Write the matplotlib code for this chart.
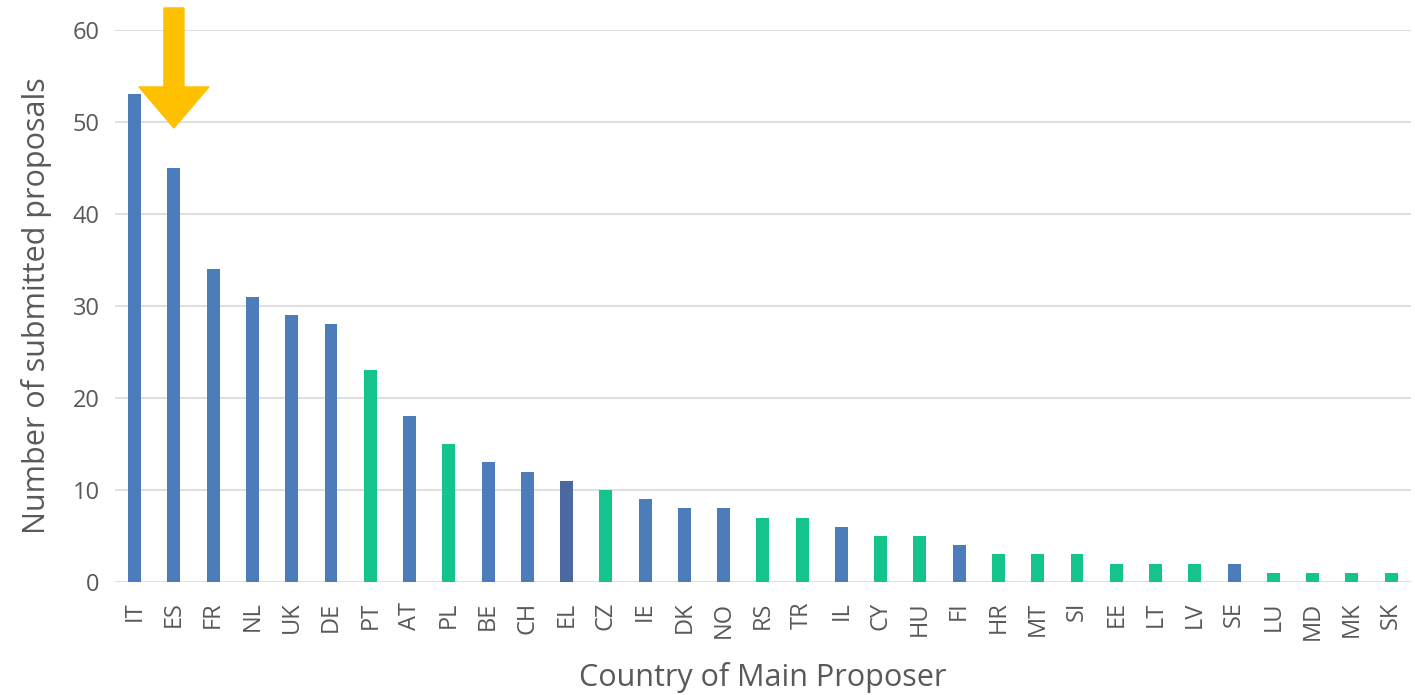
import matplotlib
matplotlib.use("Agg")
import matplotlib.pyplot as plt
from matplotlib.patches import FancyArrow

countries = ["IT", "ES", "FR", "NL", "UK", "DE", "PT", "AT", "PL", "BE", "CH", "EL", "CZ",
             "IE", "DK", "NO", "RS", "TR", "IL", "CY", "HU", "FI", "HR", "MT", "SI", "EE",
             "LT", "LV", "SE", "LU", "MD", "MK", "SK"]
proposals = [53, 45, 34, 31, 29, 28, 23, 18, 15, 13, 12, 11, 10,
             9, 8, 8, 7, 7, 6, 5, 5, 4, 3, 3, 3, 2,
             2, 2, 2, 1, 1, 1, 1]
groups = ["b", "b", "b", "b", "b", "b", "g", "b", "g", "b", "b", "d", "g",
          "b", "b", "b", "g", "g", "b", "g", "g", "b", "g", "g", "g", "g",
          "g", "g", "b", "g", "g", "g", "g"]
yticks = [0, 10, 20, 30, 40, 50, 60]

palette = {"b": "#4A7DBA", "g": "#14C48C", "d": "#4C68A2"}

plt.rcParams['font.family'] = ['Open Sans', 'DejaVu Sans']

fig = plt.figure(figsize=(14.15, 6.95), dpi=100)
ax = fig.add_axes([0.0813, 0.1626, 0.9157, 0.7942])

x = list(range(len(countries)))
ax.bar(x, proposals, width=0.33, color=[palette[g] for g in groups], zorder=3)

ax.set_xlim(-0.5, len(countries) - 0.5)
ax.set_ylim(0, 60)
ax.set_yticks(yticks)
ax.set_yticklabels([str(v) for v in yticks])
ax.set_xticks(x)
ax.set_xticklabels(countries, rotation=90)
ax.tick_params(axis='y', length=0, pad=11, labelsize=17, labelcolor="#595959")
ax.tick_params(axis='x', length=0, pad=14, labelsize=17, labelcolor="#595959")
ax.grid(axis='y', color="#D9D9D9", linewidth=1.2, zorder=0)
for s in ax.spines.values():
    s.set_visible(False)

ax.set_ylabel("Number of submitted proposals", fontsize=22, color="#595959", labelpad=15)
ax.set_xlabel("Country of Main Proposer", fontsize=22, color="#595959", labelpad=16)

# highlight arrow pointing at ES
es = countries.index("ES")
tip = proposals[es] + 4.35
arrow = FancyArrow(es, 62.4, 0, tip - 62.4, width=0.51, head_width=1.78,
                   head_length=4.46, length_includes_head=True,
                   color="#FFC000", clip_on=False, zorder=5)
ax.add_patch(arrow)

fig.savefig("out.png", dpi=100)
